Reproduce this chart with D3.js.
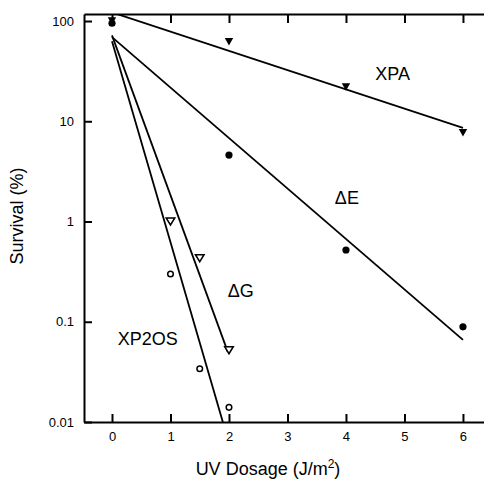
<!DOCTYPE html>
<html>
<head>
<meta charset="utf-8">
<script src="https://cdn.jsdelivr.net/npm/d3@7"></script>
<style>
  html, body { margin: 0; padding: 0; background: #fff; }
  svg { display: block; font-family: "Liberation Sans", Arial, Helvetica, sans-serif; }
</style>
</head>
<body>
<svg id="chart" width="484" height="487"></svg>
<script>
// ---- data ----
const xTicks = [0, 1, 2, 3, 4, 5, 6];
const yTicks = [0.01, 0.1, 1, 10, 100];
const yTickLabels = ["0.01", "0.1", "1", "10", "100"];

const xpaX = [0, 2, 4, 6];
const xpaY = [100, 62, 22, 7.7];
const dEX = [0, 2, 4, 6];
const dEY = [95, 4.6, 0.52, 0.089];
const dGX = [1, 1.5, 2];
const dGY = [1.0, 0.43, 0.052];
const xp2osX = [1, 1.5, 2];
const xp2osY = [0.30, 0.034, 0.014];

// fitted lines (endpoints)
const xpaLineX = [0, 6];
const xpaLineY = [122, 8.6];
const dELineX = [0, 6];
const dELineY = [69, 0.066];
const dGLineX = [0, 1.98];
const dGLineY = [72, 0.05];
const xp2osLineX = [0, 1.895];
const xp2osLineY = [63, 0.01];

const labels = [
  { text: "XPA", x: 4.5, y: 26 },
  { text: "\u0394E", x: 3.81, y: 1.5 },
  { text: "\u0394G", x: 1.98, y: 0.177 },
  { text: "XP2OS", x: 0.1, y: 0.059 }
];

// ---- layout ----
const svg = d3.select("#chart");
const mLeft = 84, mRight = 484, mTop = 14, mBottom = 422;

const x = d3.scaleLinear().domain([-0.4786, 6.3596]).range([mLeft, mRight]);
const y = d3.scaleLog().domain([0.01, 117.5]).range([mBottom, mTop]);

svg.append("clipPath").attr("id", "plotclip")
  .append("rect").attr("x", mLeft).attr("y", mTop).attr("width", mRight - mLeft).attr("height", mBottom - mTop);

// axes
const axisStyle = g => {
  g.selectAll(".domain").attr("stroke", "#000").attr("stroke-width", 2);
  g.selectAll(".tick line").attr("stroke", "#000").attr("stroke-width", 2);
  g.selectAll(".tick text").attr("fill", "#000").attr("font-size", 13)
    .attr("font-family", "Liberation Sans, Arial, Helvetica, sans-serif");
};

svg.append("g").attr("transform", `translate(0,${mBottom})`)
  .call(d3.axisBottom(x).tickValues(xTicks).tickFormat(d3.format("d"))
    .tickSizeInner(-8).tickSizeOuter(0).tickPadding(10))
  .call(axisStyle);

svg.append("g").attr("transform", `translate(0,${mTop})`)
  .call(d3.axisTop(x).tickValues(xTicks).tickFormat("")
    .tickSizeInner(-9).tickSizeOuter(0))
  .call(axisStyle);

svg.append("g").attr("transform", `translate(${mLeft},0)`)
  .call(d3.axisLeft(y).tickValues(yTicks).tickFormat((d, i) => yTickLabels[i])
    .tickSizeInner(-8).tickSizeOuter(0).tickPadding(10))
  .call(axisStyle);

// lines
const plot = svg.append("g").attr("clip-path", "url(#plotclip)");
const lineGen = d3.line().x(d => x(d[0])).y(d => y(d[1]));
const lines = [
  d3.zip(xpaLineX, xpaLineY),
  d3.zip(dELineX, dELineY),
  d3.zip(dGLineX, dGLineY),
  d3.zip(xp2osLineX, xp2osLineY)
];
plot.selectAll("path.fit").data(lines).join("path")
  .attr("class", "fit")
  .attr("d", lineGen)
  .attr("fill", "none").attr("stroke", "#000").attr("stroke-width", 1.8);

// markers
const downTri = (cx, cy, hw, h) => `M${cx - hw},${cy - h / 2}L${cx + hw},${cy - h / 2}L${cx},${cy + h / 2}Z`;

svg.selectAll("circle.dE").data(d3.zip(dEX, dEY)).join("circle")
  .attr("class", "dE")
  .attr("cx", d => x(d[0])).attr("cy", d => y(d[1])).attr("r", 3.6)
  .attr("fill", "#000");

svg.selectAll("path.xpa").data(d3.zip(xpaX, xpaY)).join("path")
  .attr("class", "xpa")
  .attr("d", d => downTri(x(d[0]), y(d[1]), 4.2, 7.5))
  .attr("fill", "#000");

svg.selectAll("path.dG").data(d3.zip(dGX, dGY)).join("path")
  .attr("class", "dG")
  .attr("d", d => downTri(x(d[0]), y(d[1]), 4.3, 7))
  .attr("fill", "#fff").attr("stroke", "#000").attr("stroke-width", 1.5);

svg.selectAll("circle.xp2os").data(d3.zip(xp2osX, xp2osY)).join("circle")
  .attr("class", "xp2os")
  .attr("cx", d => x(d[0])).attr("cy", d => y(d[1])).attr("r", 2.8)
  .attr("fill", "#fff").attr("stroke", "#000").attr("stroke-width", 1.5);

// series labels
svg.selectAll("text.lbl").data(labels).join("text")
  .attr("class", "lbl")
  .attr("x", d => x(d.x)).attr("y", d => y(d.y))
  .attr("font-size", 18).attr("fill", "#000")
  .text(d => d.text);

// axis titles
const xt = svg.append("text")
  .attr("x", 268).attr("y", 475)
  .attr("text-anchor", "middle").attr("font-size", 18).attr("fill", "#000");
xt.append("tspan").text("UV Dosage (J/m");
xt.append("tspan").attr("dy", -7).attr("font-size", 12).text("2");
xt.append("tspan").attr("dy", 7).text(")");

svg.append("text")
  .attr("transform", "translate(23,216) rotate(-90)")
  .attr("text-anchor", "middle").attr("font-size", 18).attr("fill", "#000")
  .text("Survival (%)");
</script>
</body>
</html>
